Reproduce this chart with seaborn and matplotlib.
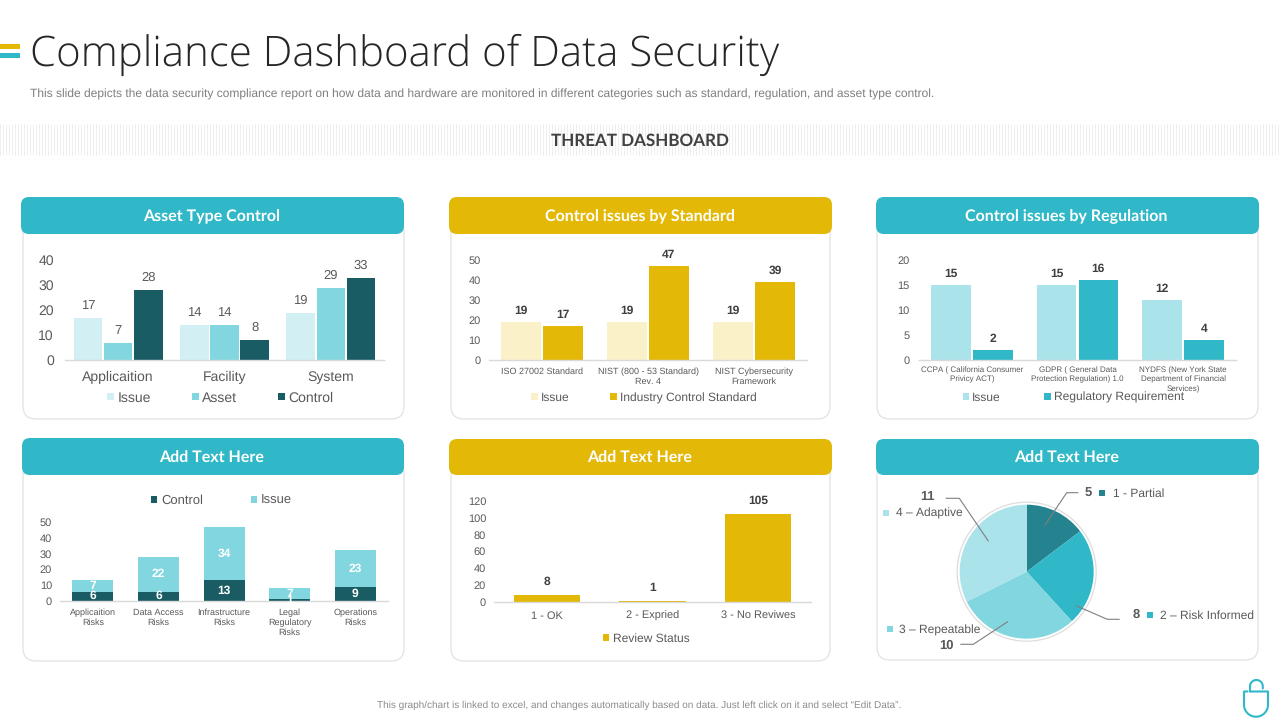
import numpy as np
import pandas as pd
import matplotlib
matplotlib.use("Agg")
import matplotlib.pyplot as plt
from matplotlib.patches import FancyBboxPatch, Circle
import seaborn as sns

# ---------- data ----------
asset_cats = ["Applicaition", "Facility", "System"]
asset_issue = [17, 14, 19]
asset_asset = [7, 14, 29]
asset_control = [28, 8, 33]

std_cats = ["ISO 27002 Standard", "NIST (800 - 53 Standard)\nRev. 4", "NIST Cybersecurity\nFramework"]
std_issue = [19, 19, 19]
std_industry = [17, 47, 39]

reg_cats = ["CCPA ( California Consumer\nPrivicy ACT)", "GDPR ( General Data\nProtection Regulation) 1.0",
            "NYDFS (New York State\nDepartment of Financial\nServices)"]
reg_issue = [15, 15, 12]
reg_requirement = [2, 16, 4]

risk_cats = ["Applicaition\nRisks", "Data Access\nRisks", "Infrastructure\nRisks", "Legal\nRegulatory\nRisks", "Operations\nRisks"]
risk_control = [6, 6, 13, 1, 9]
risk_issue = [7, 22, 34, 7, 23]

review_cats = ["1 - OK", "2 - Expried", "3 - No Reviwes"]
review_status = [8, 1, 105]

pie_labels = ["1 - Partial", "2 – Risk Informed", "3 – Repeatable", "4 – Adaptive"]
pie_values = [5, 8, 10, 11]

# ---------- style ----------
TEAL = "#30B8C8"
YELLOW = "#E3B807"
DARK = "#1A5C63"
MID = "#82D6E0"
PALE = "#D2F0F3"
LIGHT = "#ABE3EB"
PALEY = "#FBF1C9"
DEEP = "#25838F"
GREY = "#595959"

sns.set_theme(style="white")
plt.rcParams["font.family"] = ["Liberation Sans", "DejaVu Sans"]
plt.rcParams["text.hinting"] = "no_hinting"
plt.rcParams["text.hinting_factor"] = 1
W, H = 1280, 720
fig = plt.figure(figsize=(12.8, 7.2), dpi=100, facecolor="white")


def overlay(z):
    a = fig.add_axes([0, 0, 1, 1], zorder=z)
    a.set_xlim(0, W)
    a.set_ylim(H, 0)
    a.axis("off")
    a.patch.set_alpha(0)
    return a


bg = overlay(0)
top = overlay(5)


def rect_axes(x0, y0, x1, y1, z=2):
    a = fig.add_axes([x0 / W, 1 - y1 / H, (x1 - x0) / W, (y1 - y0) / H], zorder=z)
    a.patch.set_alpha(0)
    return a


def panel(hx0, hx1, hy0, hy1, cx0, cx1, cy1, color, title):
    bg.add_patch(FancyBboxPatch((cx0, hy1 - 14), cx1 - cx0, cy1 - hy1 + 14,
                                boxstyle="round,pad=0,rounding_size=13", fc="white", ec="#E2E2E2", lw=0.9))
    bg.add_patch(FancyBboxPatch((hx0, hy0), hx1 - hx0, hy1 - hy0,
                                boxstyle="round,pad=0,rounding_size=8", fc=color, ec="none"))
    bg.text((hx0 + hx1) / 2 - 1, (hy0 + hy1) / 2 + 1.5, title, color="white", ha="center", va="center",
            family="Lato", fontweight="bold", fontsize=11.3)


def style(a, ymax, ticks, tick_fs, cat_fs, ypad, xpad, linesp=1.05, baseline=False):
    a.set_ylim(0, ymax)
    a.set_yticks(ticks)
    a.set_xlabel("")
    a.set_ylabel("")
    sns.despine(ax=a, left=True, top=True, right=True)
    a.spines["bottom"].set_color("#D9D9D9")
    a.spines["bottom"].set_linewidth(1)
    a.tick_params(axis="y", length=0, labelsize=tick_fs, labelcolor=GREY, pad=ypad)
    a.tick_params(axis="x", length=0, labelsize=cat_fs, labelcolor=GREY, pad=xpad)
    for t in a.get_xticklabels():
        t.set_linespacing(linesp)
        if baseline:
            t.set_verticalalignment("baseline")
    if a.get_legend() is not None:
        a.get_legend().remove()


def legend(names, colors, sq_x, txt_x, cy, fs, size=6.5):
    for name, col, sx, tx in zip(names, colors, sq_x, txt_x):
        top.add_patch(plt.Rectangle((sx - size / 2, cy - size / 2), size, size, fc=col, ec="none"))
        top.text(tx, cy + 0.36 * fs / 0.72, name, fontsize=fs, color=GREY, ha="left", va="baseline")


def grouped(a, cats, series, palette, width, gap):
    frames = [pd.DataFrame({"cat": cats, "value": vals, "series": name}) for name, vals in series.items()]
    df = pd.concat(frames)
    sns.barplot(data=df, x="cat", y="value", hue="series", palette=palette, width=width, gap=gap,
                saturation=1, ax=a, errorbar=None, linewidth=0)


# ---------- page chrome ----------
bg.add_patch(plt.Rectangle((0, 43.5), 20, 5, fc=YELLOW, ec="none"))
bg.add_patch(plt.Rectangle((0, 52.5), 20, 5, fc=TEAL, ec="none"))
bg.text(30, 55, "Compliance Dashboard of Data Security", family="Open Sans", fontweight="light", fontsize=29.9,
        color="#262626", va="center", ha="left")
bg.text(30, 94.5, "This slide depicts the data security compliance report on how data and hardware are monitored in "
        "different categories such as standard, regulation, and asset type control.",
        fontsize=8.6, color="#7F7F7F", va="center", ha="left")
bg.vlines(np.arange(0, W, 3.0), 124, 155, color="#EFEFEF", lw=0.7)
bg.text(639.5, 141, "THREAT DASHBOARD", family="Lato", fontweight="bold", fontsize=12.6, color="#404040",
        ha="center", va="center")
bg.text(639, 705, "This graph/chart is linked to excel, and changes automatically based on data. Just left click on it "
        "and select “Edit Data”.", fontsize=7.5, color="#8C8C8C", ha="center", va="center")

panel(21, 404, 197, 234, 23, 404, 419, TEAL, "Asset Type Control")
panel(449, 832, 197, 234, 451, 830, 419, YELLOW, "Control issues by Standard")
panel(876, 1259, 197, 234, 877, 1258, 419, TEAL, "Control issues by Regulation")
panel(22, 404, 438, 475, 23, 404, 661, TEAL, "Add Text Here")
panel(449, 832, 439, 475, 451, 830, 661, YELLOW, "Add Text Here")
panel(876, 1259, 439, 475, 877, 1258, 660, TEAL, "Add Text Here")

# ---------- chart 1 ----------
a1 = rect_axes(65, 260, 384, 360)
grouped(a1, asset_cats, {"Issue": asset_issue, "Asset": asset_asset, "Control": asset_control},
        [PALE, MID, DARK], 0.85, 0.05)
style(a1, 40, [0, 10, 20, 30, 40], 9.8, 9.8, 8, 15.1, baseline=True)
for c in a1.containers:
    a1.bar_label(c, fontsize=9.6, color=GREY, padding=4.5)
legend(["Issue", "Asset", "Control"], [PALE, MID, DARK], [110.7, 195.7, 281.7], [117.3, 202, 288], 396.7, 10)

# ---------- chart 2 ----------
a2 = rect_axes(489, 260, 807, 360)
grouped(a2, std_cats, {"Issue": std_issue, "Industry Control Standard": std_industry},
        [PALEY, YELLOW], 0.79, 0.05)
style(a2, 50, [0, 10, 20, 30, 40, 50], 7.6, 6.6, 6, 5.5, 1.15)
for c in a2.containers:
    a2.bar_label(c, fontsize=8.3, color="#404040", fontweight="bold", padding=4)
legend(["Issue", "Industry Control Standard"], [PALEY, YELLOW], [534.3, 613.3], [541, 620.3], 396.7, 8.7)

# ---------- chart 3 ----------
a3 = rect_axes(919, 260, 1236, 360)
grouped(a3, reg_cats, {"Issue": reg_issue, "Regulatory Requirement": reg_requirement},
        [LIGHT, TEAL], 0.79, 0.05)
style(a3, 20, [0, 5, 10, 15, 20], 7.6, 5.8, 7, 4.5, 1.35)
for c in a3.containers:
    a3.bar_label(c, fontsize=8.3, color="#404040", fontweight="bold", padding=4)
legend(["Issue", "Regulatory Requirement"], [LIGHT, TEAL], [966, 1047.7], [972.3, 1053.7], 396.7, 8.6)

# ---------- chart 4 ----------
a4 = rect_axes(60, 522, 388, 601)
risk = pd.DataFrame({"cat": risk_cats, "control": risk_control, "issue": risk_issue})
sns.barplot(data=risk, x="cat", y="control", color=DARK, width=0.625, saturation=1, ax=a4, errorbar=None, linewidth=0)
sns.barplot(data=risk, x="cat", y="issue", color=MID, width=0.625, saturation=1, ax=a4, errorbar=None, linewidth=0,
            bottom=risk["control"].to_numpy())
style(a4, 50, [0, 10, 20, 30, 40, 50], 7.6, 6.5, 5.7, 5.5, 1.2)
for c in a4.containers:
    a4.bar_label(c, label_type="center", fontsize=8.6, color="white", fontweight="bold")
legend(["Control", "Issue"], [DARK, MID], [154, 254], [161.3, 260.3], 499.3, 9.6)

# ---------- chart 5 ----------
a5 = rect_axes(494, 501, 811, 601.5)
review = pd.DataFrame({"cat": review_cats, "value": review_status})
sns.barplot(data=review, x="cat", y="value", color=YELLOW, width=0.63, saturation=1, ax=a5, errorbar=None, linewidth=0)
style(a5, 120, [0, 20, 40, 60, 80, 100, 120], 7.6, 7.6, 5.7, 12.2, baseline=True)
for c in a5.containers:
    a5.bar_label(c, fontsize=8.3, color="#404040", fontweight="bold", padding=5)
legend(["Review Status"], [YELLOW], [606], [612.7], 637.7, 8.4)

# ---------- pie ----------
R = 67.0
cx, cy = 1026.7, 571.7
a6 = rect_axes(cx - 72, cy - 72, cx + 72, cy + 72)
a6.pie(pie_values, colors=[DEEP, TEAL, MID, LIGHT], startangle=90, counterclock=False, radius=1,
       wedgeprops={"linewidth": 0})
a6.add_patch(Circle((0, 0), 69.5 / R, fc="none", ec="#DDDDDD", lw=0.9))
a6.set_xlim(-72 / R, 72 / R)
a6.set_ylim(-72 / R, 72 / R)
a6.set_aspect("equal")

leaders = [[(1045, 525), (1066.7, 492.7), (1078, 492.7)],
           [(1076, 605.7), (1107.3, 619.3), (1119.3, 619.3)],
           [(1007.7, 621.7), (973.3, 644.3), (960.7, 644.3)],
           [(988.3, 541), (959.3, 498.3), (946, 498.3)]]
for pts in leaders:
    xs, ys = zip(*pts)
    top.plot(xs, ys, color="#7F7F7F", lw=0.8, solid_joinstyle="miter")

num_pos = [(1088, 494), (1136, 615), (946, 645.5), (927, 497)]
for v, (x, y) in zip(pie_values, num_pos):
    top.text(x, y, str(v), fontsize=9.2, fontweight="bold", color="#595959", ha="center", va="center")

sq_pos = [(1102, 493), (1150, 615), (889.5, 629), (886, 512.5)]
sq_cols = [DEEP, TEAL, MID, LIGHT]
txt_x = [1113, 1160, 899, 896]
for lab, (x, y), col, tx in zip(pie_labels, sq_pos, sq_cols, txt_x):
    top.add_patch(plt.Rectangle((x - 3, y - 3), 6, 6, fc=col, ec="none"))
    top.text(tx, y + 1, lab, fontsize=8.9, color=GREY, ha="left", va="center")

# ---------- mouse icon ----------
t = np.linspace(np.pi, 0, 60)
body_x = np.r_[1247.5, 1244, 1244, 1256 + 12 * np.cos(t), 1268, 1250]
body_y = np.r_[691.5, 691.5, 704.7, 704.7 + 12 * np.sin(t), 691.5, 691.5]
top.plot(body_x, body_y, color=TEAL, lw=1.5)
t2 = np.linspace(np.pi, 2 * np.pi, 40)
hx = np.r_[1250, 1256.4 + 6.4 * np.cos(t2), 1262.8]
hy = np.r_[691.5, 686.4 + 6.4 * np.sin(t2), 688.5]
top.plot(hx, hy, color=TEAL, lw=1.5)

fig.savefig("out.png", dpi=100)
